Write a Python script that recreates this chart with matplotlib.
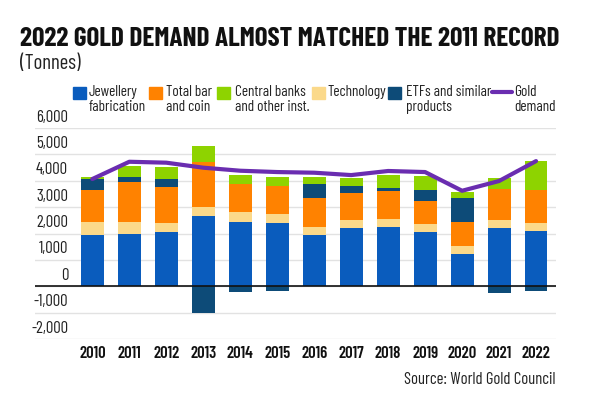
import matplotlib
matplotlib.use("Agg")
import matplotlib.pyplot as plt
from matplotlib.patches import Rectangle
from matplotlib.lines import Line2D
import matplotlib.transforms as mtransforms
import numpy as np

years = ["2010", "2011", "2012", "2013", "2014", "2015", "2016",
         "2017", "2018", "2019", "2020", "2021", "2022"]
jewellery = [1960, 2000, 2060, 2660, 2440, 2400, 1960, 2190, 2230, 2060, 1240, 2190, 2100]
technology = [460, 420, 355, 355, 380, 330, 305, 315, 305, 315, 290, 315, 315]
bar_coin = [1215, 1545, 1355, 1710, 1075, 1065, 1065, 1040, 1090, 860, 910, 1165, 1230]
etfs = [420, 190, 280, -1010, -215, -190, 545, 265, 100, 430, 910, -255, -190]
central_banks = [80, 405, 480, 610, 340, 355, 265, 290, 495, 505, 230, 420, 1115]
gold_demand = [4065, 4720, 4685, 4495, 4380, 4330, 4305, 4215, 4370, 4330, 3620, 3990, 4745]

c_jew = "#0a5cbd"
c_tech = "#fbd98a"
c_bar = "#ff8200"
c_etf = "#0d4b78"
c_cb = "#8ed300"
c_gold = "#6a2db0"

plt.rcParams["font.family"] = ["Barlow Condensed", "DejaVu Sans"]

fig = plt.figure(figsize=(6, 4), dpi=100)
W, H = 600, 400
ax = fig.add_axes([35 / W, (H - 339) / H, (556 - 35) / W, (339 - 128) / H])

x = np.arange(len(years))
bw = 0.62
pos_base = np.zeros(len(years))
neg_base = np.zeros(len(years))
for vals, col in [(jewellery, c_jew), (technology, c_tech), (bar_coin, c_bar),
                  (etfs, c_etf), (central_banks, c_cb)]:
    v = np.array(vals, dtype=float)
    base = np.where(v >= 0, pos_base, neg_base)
    ax.bar(x, v, bw, bottom=base, color=col, zorder=3)
    pos_base = pos_base + np.where(v >= 0, v, 0)
    neg_base = neg_base + np.where(v < 0, v, 0)

ax.plot(x, gold_demand, color=c_gold, lw=3, solid_capstyle="round", zorder=4)

ax.set_xlim(-1.55, 12.54)
ax.set_ylim(-2000, 6000)
yt = list(range(-2000, 6001, 1000))
ax.set_yticks(yt)
ax.set_yticklabels([])
ax.tick_params(axis="y", length=0)
for t in yt:
    ax.axhline(t, color="#e2e2e2", lw=1, zorder=1)
ax.axhline(0, color="#111111", lw=1.2, zorder=5)

trans = mtransforms.blended_transform_factory(ax.transAxes, ax.transData)
for t in yt:
    ax.text((68 - 35) / (556 - 35), t + 130, f"{t:,}", transform=trans,
            ha="right", va="bottom", fontsize=12, color="#222222")

ax.set_xticks(x)
ax.set_xticklabels(years, fontsize=12, fontweight="semibold", color="#111111")
ax.tick_params(axis="x", length=0, pad=5)
for s in ax.spines.values():
    s.set_visible(False)

# title
fig.text(20 / W, 1 - 46 / H, "2022 GOLD DEMAND ALMOST MATCHED THE 2011 RECORD",
         fontsize=19.6, fontweight="bold", color="#111111", ha="left", va="baseline")
fig.text(20 / W, 1 - 69 / H, "(Tonnes)", fontsize=15, color="#222222",
         ha="left", va="baseline")

# legend
items = [(73, 89, c_jew, "Jewellery\nfabrication", "box"),
         (149, 166, c_bar, "Total bar\nand coin", "box"),
         (217, 235, c_cb, "Central banks\nand other inst.", "box"),
         (312, 327, c_tech, "Technology", "box"),
         (388, 406, c_etf, "ETFs and similar\nproducts", "box"),
         (492, 514, c_gold, "Gold\ndemand", "line")]
for sx, tx, col, lab, kind in items:
    if kind == "box":
        fig.patches.append(Rectangle((sx / W, 1 - 99 / H), 13 / W, 12 / H,
                                     transform=fig.transFigure, color=col))
    else:
        fig.lines.append(Line2D([sx / W, (sx + 20) / W], [1 - 92 / H, 1 - 92 / H],
                                transform=fig.transFigure, color=col, lw=3,
                                solid_capstyle="round"))
    fig.text(tx / W, 1 - 85 / H, lab, fontsize=11, color="#222222",
             ha="left", va="top", linespacing=1.05)

fig.text(556 / W, 1 - 384 / H, "Source: World Gold Council", fontsize=12,
         color="#222222", ha="right", va="baseline")

fig.savefig("out.png", dpi=100)
